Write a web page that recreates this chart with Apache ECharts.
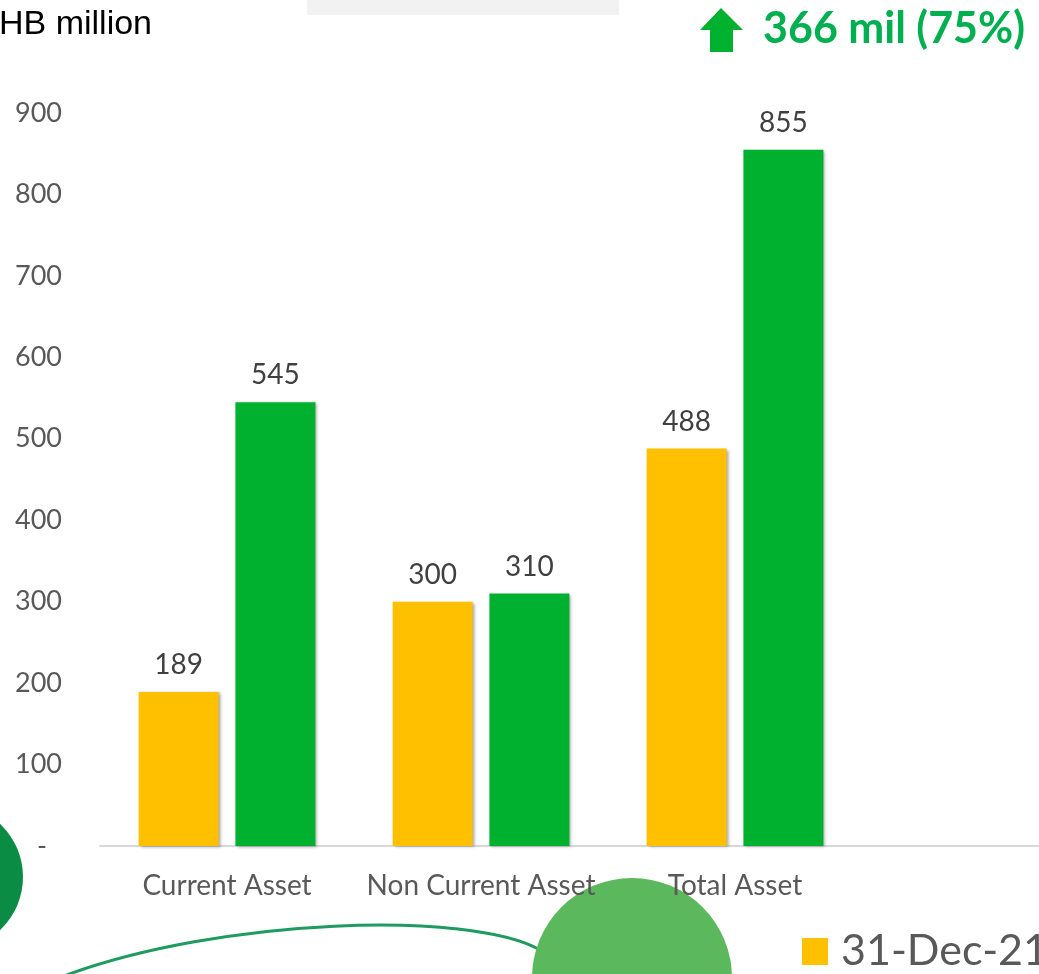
<!DOCTYPE html>
<html>
<head>
<meta charset="utf-8">
<script src="https://cdn.jsdelivr.net/npm/echarts@6/dist/echarts.min.js"></script>
<style>
  html, body { margin: 0; padding: 0; background: #fff; }
  #chart { width: 1039px; height: 974px; }
</style>
</head>
<body>
<div id="chart"></div>
<script>
// data
const categories = ['Current Asset', 'Non Current Asset', 'Total Asset'];
const seriesNames = ['31-Dec-21', '31-Dec-22'];
const values2021 = [189, 300, 488];
const values2022 = [545, 310, 855];
const yTicks = [0, 100, 200, 300, 400, 500, 600, 700, 800, 900];

const chart = echarts.init(document.getElementById('chart'));

const labelFont = 'Lato, "Open Sans", sans-serif';

const barShadow = {
  shadowColor: 'rgba(0,0,0,0.35)',
  shadowBlur: 3,
  shadowOffsetX: 2,
  shadowOffsetY: 1
};

const valueLabel = {
  show: true,
  position: 'top',
  distance: 13,
  fontFamily: labelFont,
  fontSize: 28,
  color: '#404040'
};

const option = {
  animation: false,
  backgroundColor: '#fff',
  title: {
    text: 'HB million',
    left: -6,
    top: 3,
    textStyle: {
      fontFamily: '"Liberation Sans", Arial, sans-serif',
      fontWeight: 'normal',
      fontSize: 34,
      color: '#000'
    }
  },
  legend: {
    data: seriesNames,
    left: 802,
    top: 930,
    padding: 0,
    itemWidth: 26,
    itemHeight: 27,
    icon: 'rect',
    itemGap: 30,
    textStyle: {
      fontFamily: labelFont,
      fontSize: 43,
      color: '#595959',
      padding: [0, 0, 0, 8]
    }
  },
  grid: {
    left: 100,
    top: 113,
    height: 733,
    width: 1016,
    outerBoundsMode: 'none'
  },
  xAxis: {
    type: 'category',
    data: categories,
    max: 3, // an empty band continues to the right like in the slide
    axisLine: { lineStyle: { color: '#D9D9D9', width: 2 } },
    axisTick: { show: false },
    axisLabel: {
      interval: 0,
      fontFamily: labelFont,
      fontSize: 28,
      color: '#595959',
      margin: 26
    }
  },
  yAxis: {
    type: 'value',
    min: yTicks[0],
    max: yTicks[yTicks.length - 1],
    interval: 100,
    splitLine: { show: false },
    axisLine: { show: false },
    axisTick: { show: false },
    axisLabel: {
      fontFamily: labelFont,
      fontSize: 27,
      color: '#595959',
      margin: 38,
      // accounting style zero: a dash with some space after it
      formatter: v => (v === 0 ? '{z|-}' : String(v)),
      rich: {
        z: { fontFamily: labelFont, fontSize: 27, color: '#595959', padding: [0, 15, 0, 0] }
      }
    }
  },
  series: [
    {
      name: seriesNames[0],
      type: 'bar',
      data: values2021,
      barWidth: 80,
      barGap: '21%',
      itemStyle: Object.assign({ color: '#FFC000' }, barShadow),
      label: valueLabel,
      z: 3
    },
    {
      name: seriesNames[1],
      type: 'bar',
      data: values2022,
      barWidth: 80,
      itemStyle: Object.assign({ color: '#00B02F' }, barShadow),
      label: valueLabel,
      z: 3
    }
  ],
  graphic: [
    // slide decorations
    { type: 'rect', shape: { x: 307, y: 0, width: 312, height: 15 }, style: { fill: '#F2F2F2' }, z: -10 },
    { type: 'circle', shape: { cx: -50, cy: 877, r: 73 }, style: { fill: '#0B8C45' }, z: -10 },
    {
      type: 'bezierCurve',
      shape: { x1: 64, y1: 976, cpx1: 220, cpy1: 918, cpx2: 470, cpy2: 910, x2: 540, y2: 950 },
      style: { stroke: '#1F9A60', lineWidth: 3, fill: null },
      z: -10
    },
    { type: 'circle', shape: { cx: 632, cy: 978, r: 100 }, style: { fill: '#5CB85C' }, z: -10 },
    // up arrow + headline
    {
      type: 'polygon',
      shape: { points: [[721, 8], [743, 30], [733, 30], [733, 52], [710, 52], [710, 30], [700, 30]] },
      style: { fill: '#00B02F' }
    },
    {
      type: 'text',
      left: 763,
      top: 8,
      style: {
        text: '366 mil (75%)',
        fontFamily: labelFont,
        fontWeight: 'bold',
        fontSize: 43,
        fill: '#00B050'
      }
    }
  ]
};

chart.setOption(option);
</script>
</body>
</html>
